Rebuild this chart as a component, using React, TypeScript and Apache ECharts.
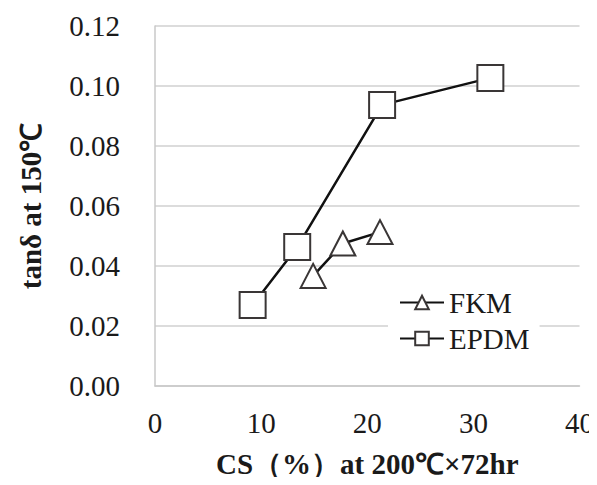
import React, { useEffect, useRef } from "react";
import * as echarts from "echarts";

const fkmX = [14.9, 17.7, 21.2];
const fkmY = [0.0367, 0.0475, 0.0513];
const epdmX = [9.2, 13.4, 21.4, 31.6];
const epdmY = [0.027, 0.0463, 0.0937, 0.1027];
const seriesNames = ["FKM", "EPDM"];
const xTitle = "CS（%）at 200℃×72hr";
const yTitle = "tanδ at 150℃";

const FONT = "Times New Roman, Liberation Serif, serif";

export default function App() {
  const ref = useRef<HTMLDivElement>(null);
  useEffect(() => {
    if (!ref.current) return;
    const chart = echarts.init(ref.current, undefined, { renderer: "svg" });
    const mk = (xs: number[], ys: number[]) => xs.map((x, i) => [x, ys[i]]);
    const markerStyle = { color: "#ffffff", borderColor: "#3a3636", borderWidth: 2 };
    chart.setOption({
      animation: false,
      textStyle: { fontFamily: FONT },
      grid: { left: 155, right: 15, top: 26, bottom: 99 },
      xAxis: {
        type: "value",
        min: 0,
        max: 40,
        interval: 10,
        name: xTitle,
        nameLocation: "middle",
        nameGap: 63,
        nameTextStyle: { fontFamily: FONT, fontSize: 29, fontWeight: "bold", color: "#1a1a1a" },
        axisLine: { show: true, lineStyle: { color: "#c8c8c8", width: 1.5 } },
        axisTick: { show: false },
        splitLine: { show: false },
        axisLabel: { fontFamily: FONT, fontWeight: "normal", fontSize: 29, color: "#1a1a1a", margin: 22 },
      },
      yAxis: {
        type: "value",
        min: 0,
        max: 0.12,
        interval: 0.02,
        name: yTitle,
        nameLocation: "middle",
        nameGap: 110,
        nameTextStyle: { fontFamily: FONT, fontSize: 29, fontWeight: "bold", color: "#1a1a1a" },
        axisLine: { show: true, lineStyle: { color: "#c8c8c8", width: 1.5 } },
        axisTick: { show: false },
        splitLine: { show: true, lineStyle: { color: "#d0d0d0", width: 1.5 } },
        axisLabel: {
          fontFamily: FONT,
          fontWeight: "normal",
          fontSize: 29,
          color: "#1a1a1a",
          margin: 35,
          formatter: (v: number) => v.toFixed(2),
        },
      },
      legend: {
        orient: "vertical",
        left: 388,
        top: 284,
        padding: [4, 10, 4, 11],
        backgroundColor: "#ffffff",
        itemWidth: 44,
        itemHeight: 17,
        itemGap: 7,
        data: seriesNames,
        textStyle: { fontFamily: FONT, fontWeight: "normal", fontSize: 29, color: "#1a1a1a", padding: [0, 0, 0, 0] },
      },
      series: [
        {
          name: seriesNames[0],
          type: "line",
          data: mk(fkmX, fkmY),
          symbol: "triangle",
          symbolSize: [25, 24],
          lineStyle: { color: "#111111", width: 2.5 },
          itemStyle: markerStyle,
          z: 3,
        },
        {
          name: seriesNames[1],
          type: "line",
          data: mk(epdmX, epdmY),
          symbol: "rect",
          symbolSize: 26,
          lineStyle: { color: "#111111", width: 2.5 },
          itemStyle: markerStyle,
          z: 2,
        },
      ],
    });
    return () => chart.dispose();
  }, []);
  return <div ref={ref} style={{ width: 597, height: 485, margin: -8 }} />;
}
